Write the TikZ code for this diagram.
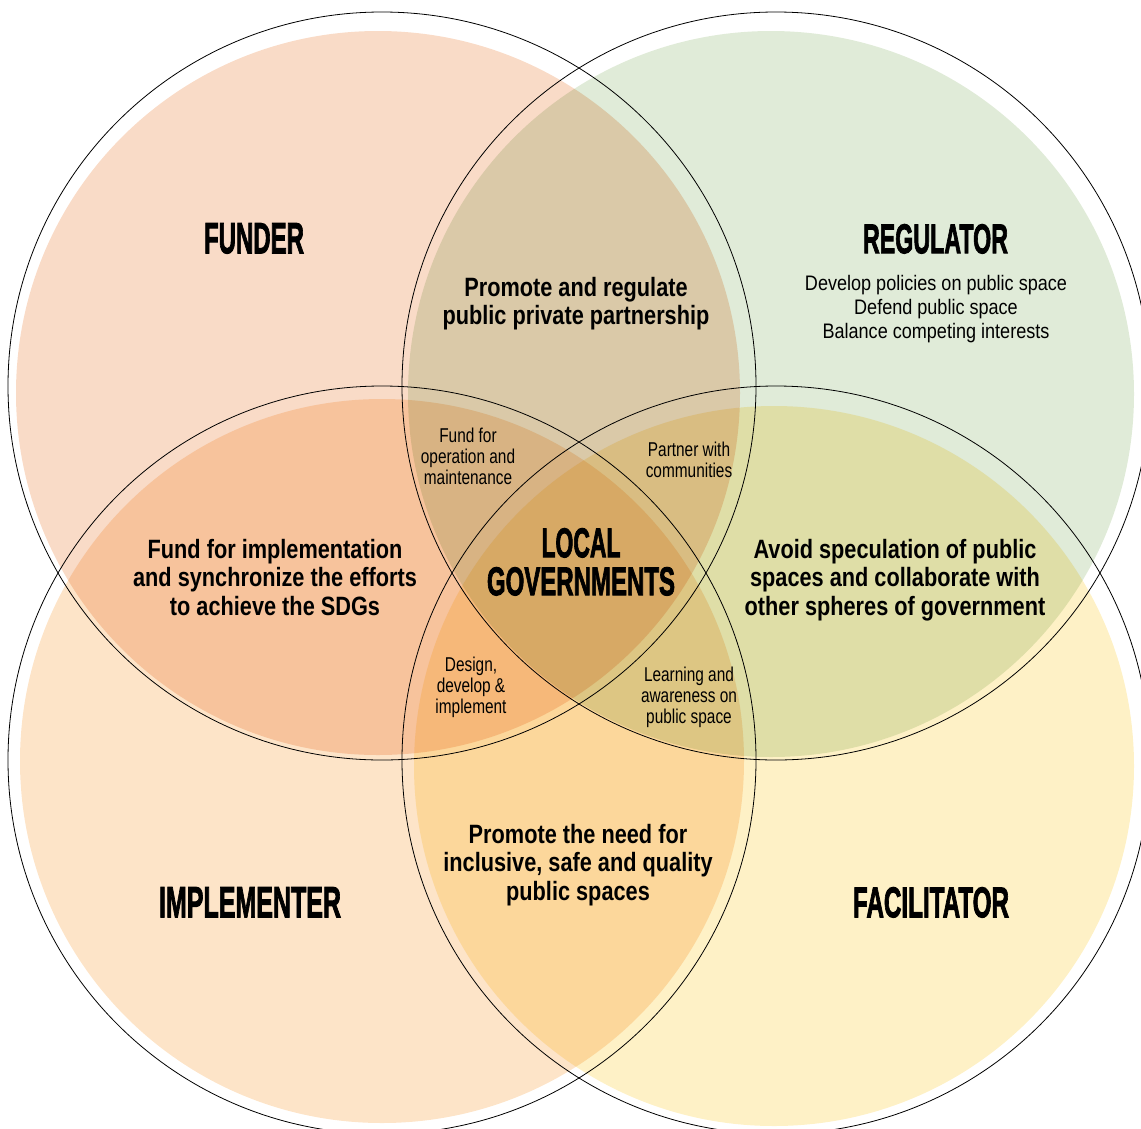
\documentclass[tikz,border=0pt]{standalone}
\usepackage{fontspec}
\setmainfont{Liberation Sans}
\newfontfamily\myHeadFam{Liberation Sans Bold}[FakeBold=2.5]
\newfontfamily\myBodyFam{Liberation Sans}[FakeStretch=0.82]
\newfontfamily\myRegFam{Liberation Sans}[FakeStretch=0.86]
\newfontfamily\mySmallFam{Liberation Sans}[FakeStretch=0.77]
\newcommand\boldbody{\myBodyFam\bfseries\fontsize{26.5}{28.5}\selectfont}
\newcommand\regbody{\myRegFam\fontsize{21}{24}\selectfont}
\newcommand\smallbody{\mySmallFam\fontsize{20}{21}\selectfont}
\newcommand\hd[3]{\resizebox{#1pt}{#2pt}{\myHeadFam #3}}
\definecolor{cTL}{RGB}{249,219,199}
\definecolor{cTR}{RGB}{224,235,216}
\definecolor{cBL}{RGB}{253,228,200}
\definecolor{cBR}{RGB}{254,241,198}
\begin{document}
\begin{tikzpicture}[x=1pt,y=-1pt,
  outline/.style={draw=black, line width=0.8pt},
  disk/.style={blend mode=multiply},
  head/.style={inner sep=0pt, anchor=north},
  boldtxt/.style={inner sep=0pt, anchor=north, align=center, font=\boldbody},
  regtxt/.style={inner sep=0pt, anchor=north, align=center, font=\regbody},
  smalltxt/.style={inner sep=0pt, anchor=north, align=center, font=\smallbody}]
\useasboundingbox (0,0) rectangle (1141,1128);
\clip (0,0) rectangle (1141,1128);
% filled disks
\fill[cTL, disk] (378,393) circle[radius=362pt];
\fill[cTR, disk] (771,394) circle[radius=363pt];
\fill[cBL, disk] (382,761) circle[radius=362pt];
\fill[cBR, disk] (774,766) circle[radius=360pt];
% outline circles
\draw[outline] (382,386) circle[radius=374pt];
\draw[outline] (776,386) circle[radius=374pt];
\draw[outline] (382,760) circle[radius=374pt];
\draw[outline] (776,760) circle[radius=374pt];
% headings
\node[head] (funder) at (254,223) {\hd{100}{30}{FUNDER}};
\node[head] (regulator) at (935.5,224) {\hd{145}{29}{REGULATOR}};
\node[head] (implementer) at (250,887) {\hd{182}{30}{IMPLEMENTER}};
\node[head] (facilitator) at (931,887) {\hd{156}{30}{FACILITATOR}};
\node[inner sep=0pt, anchor=north, align=center, font=\fontsize{30}{38}\selectfont] (local) at (581,528)
  {\hd{79}{29}{LOCAL}\\\hd{188}{28}{GOVERNMENTS}};
% texts
\node[regtxt] (regtext) at (936,275) {Develop policies on public space\\Defend public space\\Balance competing interests};
\node[boldtxt] (ppp) at (576,277) {Promote and regulate\\public private partnership};
\node[boldtxt] (fundimpl) at (275,539) {Fund for implementation\\and synchronize the efforts\\to achieve the SDGs};
\node[boldtxt] (avoid) at (895,539) {Avoid speculation of public\\spaces and collaborate with\\other spheres of government};
\node[boldtxt] (promote) at (578,824) {Promote the need for\\inclusive, safe and quality\\public spaces};
\node[smalltxt] (fundop) at (468,428) {Fund for\\operation and\\maintenance};
\node[smalltxt] (partner) at (689,442) {Partner with\\communities};
\node[smalltxt] (design) at (471,657) {Design,\\develop \&\\implement};
\node[smalltxt] (learning) at (689,667) {Learning and\\awareness on\\public space};
\end{tikzpicture}
\end{document}
